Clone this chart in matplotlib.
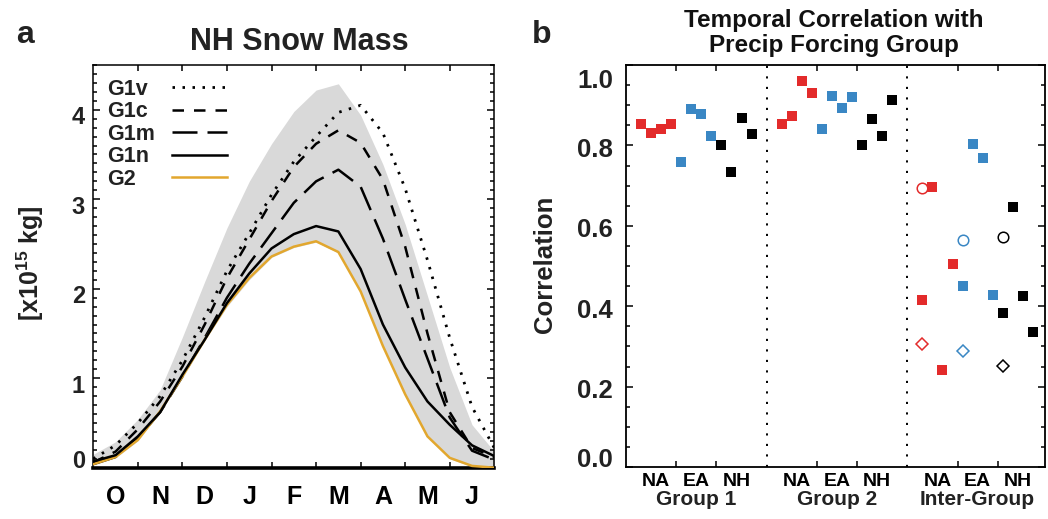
import matplotlib
matplotlib.use('Agg')
import matplotlib.pyplot as plt
from matplotlib.ticker import MultipleLocator
from matplotlib.transforms import offset_copy, blended_transform_factory

plt.rcParams['font.family'] = ['Liberation Sans', 'DejaVu Sans']
plt.rcParams['font.weight'] = 'bold'
plt.rcParams['mathtext.fontset'] = 'custom'
plt.rcParams['mathtext.rm'] = 'Liberation Sans:bold'
plt.rcParams['mathtext.bf'] = 'Liberation Sans:bold'
plt.rcParams['mathtext.it'] = 'Liberation Sans:bold'

# ---------------- Panel a data (months since 1 Oct) ----------------
month_pos = [0.0, 0.5, 1.0, 1.5, 2.0, 2.5, 3.0, 3.5, 4.0, 4.5,
             5.0, 5.5, 6.0, 6.5, 7.0, 7.5, 8.0, 8.5, 9.0]
month_labels = ['O', 'N', 'D', 'J', 'F', 'M', 'A', 'M', 'J']
band_hi = [0.15, 0.29, 0.54, 0.87, 1.46, 2.08, 2.68, 3.20, 3.62, 3.98,
           4.22, 4.29, 3.94, 3.39, 2.72, 1.92, 1.12, 0.48, 0.18]
band_lo = [0.03, 0.11, 0.30, 0.62, 1.00, 1.42, 1.80, 2.10, 2.35, 2.46,
           2.52, 2.40, 1.96, 1.35, 0.80, 0.34, 0.10, 0.01, 0.00]
g1v = [0.10, 0.25, 0.50, 0.80, 1.20, 1.68, 2.20, 2.62, 3.05, 3.42,
       3.70, 3.97, 4.05, 3.74, 3.12, 2.32, 1.45, 0.68, 0.22]
g1c = [0.06, 0.18, 0.43, 0.74, 1.13, 1.60, 2.12, 2.55, 2.98, 3.36,
       3.62, 3.77, 3.63, 3.22, 2.47, 1.50, 0.62, 0.22, 0.12]
g1m = [0.04, 0.12, 0.33, 0.62, 1.02, 1.45, 1.90, 2.28, 2.62, 2.96,
       3.20, 3.33, 3.14, 2.56, 1.88, 1.22, 0.56, 0.19, 0.09]
g1n = [0.07, 0.14, 0.35, 0.62, 1.04, 1.43, 1.84, 2.17, 2.45, 2.61,
       2.70, 2.64, 2.22, 1.60, 1.12, 0.74, 0.48, 0.25, 0.13]
g2 = [0.04, 0.12, 0.31, 0.63, 1.02, 1.43, 1.82, 2.12, 2.36, 2.47,
      2.53, 2.41, 1.97, 1.36, 0.82, 0.35, 0.11, 0.02, 0.00]
yticks_a = [0, 1, 2, 3, 4]

# ---------------- Panel b data ----------------
regions = ['NA', 'EA', 'NH']
groups = ['Group 1', 'Group 2', 'Inter-Group']
g1_na = [0.853, 0.832, 0.842, 0.854]
g1_ea = [0.759, 0.891, 0.879, 0.823]
g1_nh = [0.801, 0.734, 0.869, 0.829]
g2_na = [0.854, 0.873, 0.960, 0.930]
g2_ea = [0.841, 0.924, 0.893, 0.921]
g2_nh = [0.801, 0.866, 0.823, 0.913]
ig_na = [0.416, 0.697, 0.242, 0.506]
ig_ea = [0.451, 0.803, 0.768, 0.428]
ig_nh = [0.384, 0.648, 0.426, 0.337]
ig_circle = [0.694, 0.565, 0.573]   # NA, EA, NH
ig_diamond = [0.305, 0.288, 0.251]  # NA, EA, NH
yticks_b = [0.0, 0.2, 0.4, 0.6, 0.8, 1.0]
group_sep = [1.0, 2.0]

red = '#e32b2b'
blue = '#3a87c4'
region_colors = [red, blue, 'black']
gold = '#e2a72e'

W, H = 1048, 519
fig = plt.figure(figsize=(W / 100, H / 100), dpi=100)

# ======================= Panel a =======================
axa = fig.add_axes([93.3 / W, 1 - 467.7 / H, 401 / W, 402.7 / H])
axa.set_xlim(0, 9)
axa.set_ylim(0, 4.5)
axa.fill_between(month_pos, band_lo, band_hi, color='#d9d9d9', lw=0, zorder=1)
style_v = dict(color='black', lw=2.0, linestyle=(0, (0.9, 2.7)))
style_c = dict(color='black', lw=1.8, linestyle=(0, (4.6, 4.0)))
style_m = dict(color='black', lw=1.8, linestyle=(0, (10.0, 4.0)))
style_n = dict(color='black', lw=1.8)
style_2 = dict(color=gold, lw=1.8)
axa.plot(month_pos, g1v, zorder=3, **style_v)
axa.plot(month_pos, g1c, zorder=3, **style_c)
axa.plot(month_pos, g1m, zorder=3, **style_m)
axa.plot(month_pos, g2, zorder=3, **style_2)
axa.plot(month_pos, g1n, zorder=4, **style_n)

axa.set_xticks([1, 2, 3, 4, 5, 6, 7, 8])
axa.set_xticks([i + 0.5 for i in range(len(month_labels))], minor=True)
axa.set_xticklabels(month_labels, minor=True)
axa.tick_params(axis='x', which='major', direction='in', length=4.3, width=1.1,
                top=True, bottom=True, labelbottom=False)
axa.tick_params(axis='x', which='minor', length=0, pad=12.5, labelsize=18)
axa.set_yticks(yticks_a)
axa.yaxis.set_minor_locator(MultipleLocator(0.1))
axa.tick_params(axis='y', which='both', direction='in', left=True, right=True,
                labelleft=False, width=1.1)
axa.tick_params(axis='y', which='major', length=5.2)
axa.tick_params(axis='y', which='minor', length=2.6)
for sp in axa.spines.values():
    sp.set_linewidth(1.1)
axa.spines['bottom'].set_linewidth(2.6)

ytr = axa.get_yaxis_transform()
for v in yticks_a:
    dy = 0.0 if v == 0 else -14.3 * 0.72
    axa.text(0, v, str(v), transform=offset_copy(ytr, fig=fig, x=-6, y=dy, units='points'),
             ha='right', va='baseline', fontsize=17, fontweight='bold', color='#222222')

# manual legend
leg_names = ['G1v', 'G1c', 'G1m', 'G1n', 'G2']
leg_styles = [style_v, style_c, style_m, style_n, style_2]
leg_line_y = [87.3, 109.5, 132.0, 154.5, 176.8]
for name, st, yl in zip(leg_names, leg_styles, leg_line_y):
    ya = (467.7 - yl) / 402.7
    axa.plot([0.1955, 0.334], [ya, ya], transform=axa.transAxes, clip_on=False, **st)
    axa.text(0.034, (467.7 - (yl + 7.8)) / 402.7, name, transform=axa.transAxes,
             ha='left', va='baseline', fontsize=15.5, fontweight='bold', color='#222222')

fig.text(299.5 / W, 1 - 49.5 / H, 'NH Snow Mass', ha='center', va='baseline',
         fontsize=22, fontweight='bold', color='#222222')
fig.text(25 / W, 1 - 43 / H, 'a', ha='center', va='baseline', fontsize=23,
         fontweight='bold', color='#222222')
fig.text(30 / W, 1 - 263 / H, r'[x10$^{\mathbf{15}}$ kg]', rotation=90, ha='center',
         va='center', fontsize=18, fontweight='bold', color='#222222')

# ======================= Panel b =======================
axb = fig.add_axes([626 / W, 1 - 467 / H, 419 / W, 402 / H])
axb.set_xlim(0, 419 / 140.65)
axb.set_ylim(0, 1.0)

series = [[g1_na, g1_ea, g1_nh], [g2_na, g2_ea, g2_nh], [ig_na, ig_ea, ig_nh]]
for g, grp in enumerate(series):
    for r, vals in enumerate(grp):
        xs = [g + (4 * r + k + 1.5) / 14 for k in range(len(vals))]
        axb.plot(xs, vals, linestyle='none', marker='s', markersize=7.2,
                 markeredgewidth=0, color=region_colors[r], zorder=3)
for r in range(3):
    x0 = 2 + (4 * r + 1.5) / 14
    axb.plot([x0], [ig_circle[r]], linestyle='none', marker='o', markersize=7.6,
             markerfacecolor='none', markeredgecolor=region_colors[r],
             markeredgewidth=1.1, zorder=2)
    axb.plot([x0], [ig_diamond[r]], linestyle='none', marker='D', markersize=6.0,
             markerfacecolor='none', markeredgecolor=region_colors[r],
             markeredgewidth=1.1, zorder=2)

for xs in group_sep:
    axb.axvline(xs, color='black', lw=1.4, linestyle=(0, (1.1, 4.3)), zorder=1)

axb.set_xticks([g + f for g in range(3) for f in (5 / 14, 9 / 14)])
axb.set_xticks([g + (4 * r + 3) / 14 for g in range(3) for r in range(3)], minor=True)
axb.set_xticklabels(regions * 3, minor=True)
axb.tick_params(axis='x', which='major', direction='in', length=4.5, width=1.1,
                top=True, bottom=True, labelbottom=False)
axb.tick_params(axis='x', which='minor', length=0, pad=4.5, labelsize=14)
axb.set_yticks(yticks_b)
axb.yaxis.set_minor_locator(MultipleLocator(0.05))
axb.tick_params(axis='y', which='both', direction='in', left=True, right=True,
                labelleft=False, width=1.1)
axb.tick_params(axis='y', which='major', length=5.0)
axb.tick_params(axis='y', which='minor', length=3.0)
for sp in axb.spines.values():
    sp.set_linewidth(1.3)

ytrb = axb.get_yaxis_transform()
for v in yticks_b:
    if v == 1.0:
        dy = -23 * 0.72
    elif v == 0.0:
        dy = 0.0
    else:
        dy = -11.5 * 0.72
    axb.text(0, v, f'{v:.1f}', transform=offset_copy(ytrb, fig=fig, x=-9.4, y=dy, units='points'),
             ha='right', va='baseline', fontsize=18.5, fontweight='bold', color='#222222')

xtrb = blended_transform_factory(axb.transData, axb.transAxes)
for g, name in enumerate(groups):
    axb.text(g + 0.5, 0, name, transform=offset_copy(xtrb, fig=fig, x=0, y=-38 * 0.72, units='points'),
             ha='center', va='baseline', fontsize=15, fontweight='bold', color='#222222')

fig.text(834 / W, 1 - 26.5 / H, 'Temporal Correlation with', ha='center', va='baseline',
         fontsize=17.5, fontweight='bold', color='#111111')
fig.text(834 / W, 1 - 52 / H, 'Precip Forcing Group', ha='center', va='baseline',
         fontsize=17.5, fontweight='bold', color='#111111')
fig.text(542 / W, 1 - 43 / H, 'b', ha='center', va='baseline', fontsize=23,
         fontweight='bold', color='#222222')
fig.text(545 / W, 1 - 264 / H, 'Correlation', rotation=90, ha='center', va='center',
         fontsize=18.5, fontweight='bold', color='#222222')

fig.savefig('out.png', dpi=100)
